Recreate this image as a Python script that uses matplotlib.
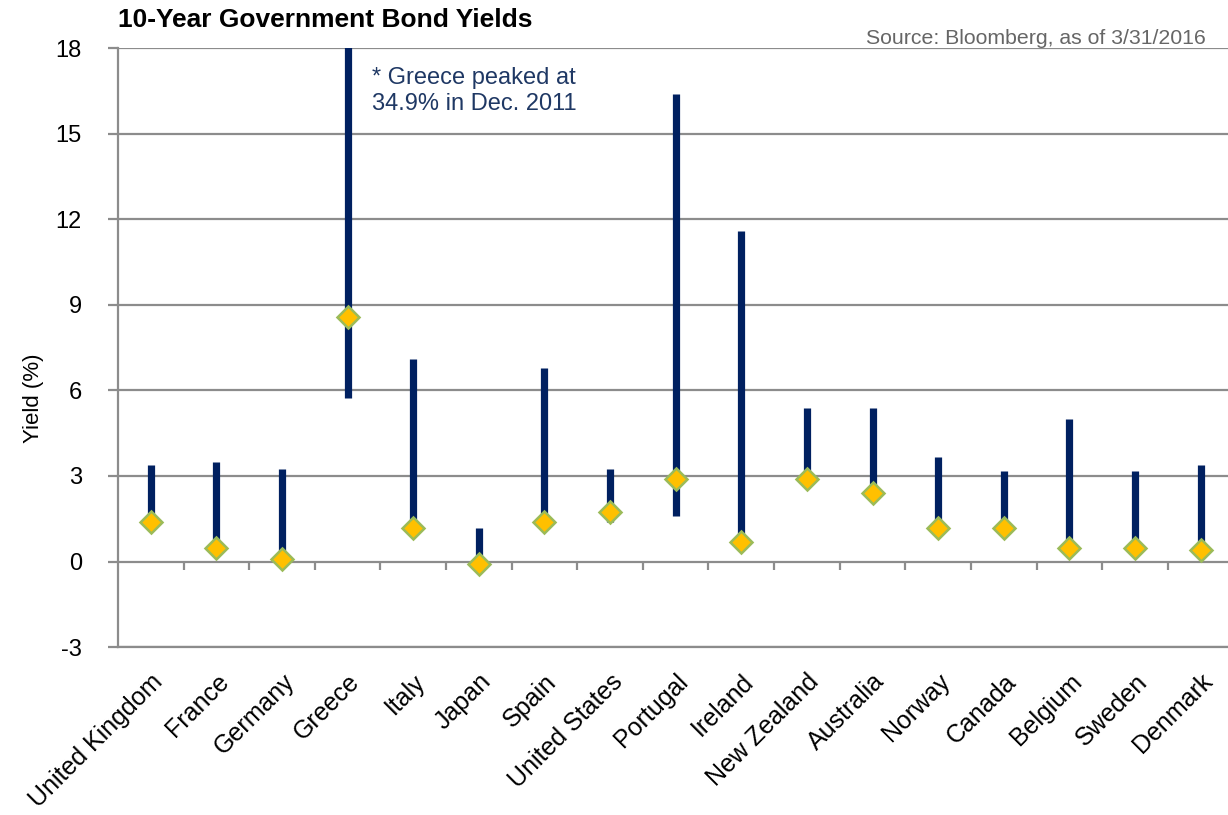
import matplotlib.pyplot as plt
import numpy as np

plt.rcParams['font.family'] = ['Liberation Sans', 'DejaVu Sans']

countries = ["United Kingdom", "France", "Germany", "Greece", "Italy", "Japan",
             "Spain", "United States", "Portugal", "Ireland", "New Zealand",
             "Australia", "Norway", "Canada", "Belgium", "Sweden", "Denmark"]
# range of 10y yields (high / low) and the current yield
highs = [3.37, 3.50, 3.23, 34.9, 7.09, 1.19, 6.80, 3.23, 16.4, 11.6, 5.40,
         5.40, 3.65, 3.16, 4.98, 3.16, 3.37]
lows = [1.40, 0.46, 0.10, 5.75, 1.19, -0.05, 1.37, 1.40, 1.61, 0.67, 2.91,
        2.42, 1.19, 1.19, 0.46, 0.46, 0.39]
current = [1.40, 0.46, 0.10, 8.56, 1.19, -0.07, 1.37, 1.72, 2.91, 0.67, 2.91,
           2.42, 1.19, 1.19, 0.46, 0.46, 0.39]
yticks = [-3, 0, 3, 6, 9, 12, 15, 18]

grid_col = "#8c8c8c"
bar_col = "#002060"

fig = plt.figure(figsize=(12.28, 8.15), dpi=100)
ax = fig.add_axes([0.0961, 0.206, 0.904, 0.735])

x = np.arange(len(countries))

for yv in yticks:
    ax.axhline(yv, color=grid_col, lw=1.6, zorder=1)

ax.vlines(x, lows, highs, color=bar_col, lw=5.2, zorder=2)
ax.plot(x, current, ls="none", marker="D", ms=11, mfc="#FFC000",
        mec="#9BBB59", mew=1.8, zorder=3)

# category boundary ticks hanging off the zero line
ax.vlines(x[:-1] + 0.5, -0.28, 0, color=grid_col, lw=1.6, zorder=1)

ax.set_xlim(-0.5, 16.42)
ax.set_ylim(-3, 18)
ax.set_yticks(yticks)
ax.set_yticklabels([str(v) for v in yticks], fontsize=17)
ax.tick_params(axis="y", length=7, width=1.6, color=grid_col, pad=19)
ax.set_xticks(x)
ax.set_xticklabels(countries, rotation=45, ha="right", rotation_mode="anchor",
                   fontsize=18)
ax.tick_params(axis="x", length=0, pad=16)

for s in ["top", "right"]:
    ax.spines[s].set_visible(False)
ax.spines["left"].set_color(grid_col)
ax.spines["left"].set_linewidth(1.6)
ax.spines["bottom"].set_color(grid_col)
ax.spines["bottom"].set_linewidth(1.6)

ax.set_ylabel("Yield (%)", fontsize=16)
ax.yaxis.set_label_coords(-0.067, 0.416)

ax.text(3.37, 17.35, "* Greece peaked at\n34.9% in Dec. 2011", color="#1F3864",
        fontsize=17, va="top", ha="left", linespacing=1.25)

fig.text(0.0961, 0.975, "10-Year Government Bond Yields", fontsize=19,
         fontweight="bold", ha="left", va="center")
fig.text(0.982, 0.953, "Source: Bloomberg, as of 3/31/2016", fontsize=15.3,
         color="#666666", ha="right", va="center")

fig.savefig("out.png", dpi=100)
